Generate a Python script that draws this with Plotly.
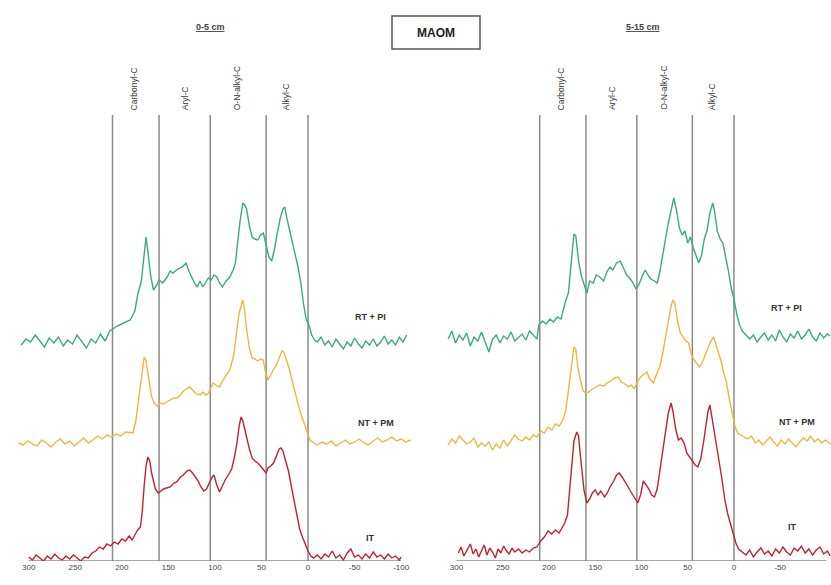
import plotly.graph_objects as go

# ---------------- data (chemical shift, ppm ; intensity, arbitrary units) ----------------
# 0-5 cm
ppm_rt_05 = [308, 303, 298, 293, 288, 283, 278, 273, 268, 263, 258, 253, 248, 243, 238, 233, 228, 223, 218, 213,
             205, 198, 191, 186, 183, 179, 176, 174, 172, 169, 166, 163, 160, 156, 152, 148, 145, 140, 135, 131,
             128, 125, 122, 119, 116, 113, 110, 107, 104, 101, 98, 95, 92, 88, 84, 80, 78, 76, 73, 70, 68, 66,
             63, 60, 57, 54, 51, 48, 45, 42, 39, 36, 33, 30, 27, 25, 23, 20, 17, 14, 11, 8, 5, 2, -1, -4, -7, -10,
             -14, -18, -22, -26, -30, -34, -38, -42, -46, -50, -54, -58, -62, -66, -70, -74, -78, -82, -86, -90,
             -94, -98, -102, -106]
int_rt_05 = [216, 222, 219, 226, 220, 214, 223, 218, 224, 215, 221, 217, 226, 219, 213, 222, 218, 227, 220, 230,
             235, 238, 241, 250, 266, 280, 305, 324, 310, 285, 271, 275, 281, 278, 283, 290, 288, 292, 294, 298,
             290, 284, 278, 274, 280, 274, 278, 283, 281, 286, 284, 278, 274, 280, 284, 292, 298, 318, 340, 358,
             356, 352, 335, 324, 322, 321, 326, 328, 316, 304, 300, 312, 328, 342, 352, 354, 344, 332, 318, 305,
             295, 280, 258, 242, 236, 226, 221, 219, 224, 216, 220, 214, 222, 217, 212, 219, 215, 223, 217, 213,
             220, 216, 222, 215, 219, 225, 217, 221, 216, 224, 219, 226]

ppm_nt_05 = [311, 306, 301, 296, 291, 286, 281, 276, 271, 266, 261, 256, 251, 246, 241, 236, 231, 226, 221, 216,
             211, 206, 201, 196, 191, 188, 185, 182, 179, 176, 174, 171, 168, 165, 162, 159, 155, 152, 148, 144,
             141, 137, 134, 130, 127, 123, 120, 116, 113, 110, 107, 104, 102, 99, 95, 92, 88, 84, 80, 77, 74, 71,
             70, 68, 66, 63, 60, 57, 54, 51, 48, 46, 43, 40, 37, 34, 31, 28, 26, 23, 20, 17, 14, 11, 8, 5, 2, -2,
             -6, -10, -15, -20, -25, -30, -35, -40, -45, -50, -55, -60, -65, -70, -75, -80, -85, -90, -95, -100,
             -105, -110]
int_nt_05 = [118, 116, 120, 117, 115, 121, 118, 114, 119, 122, 117, 120, 115, 119, 123, 118, 121, 125, 122, 126,
             124, 127, 125, 129, 128, 128, 140, 160, 185, 204, 200, 180, 164, 158, 155, 158, 157, 159, 161, 163,
             163, 166, 170, 172, 174, 170, 167, 166, 169, 166, 168, 174, 178, 176, 174, 180, 186, 191, 205, 225,
             248, 258, 261, 250, 232, 213, 203, 202, 200, 202, 201, 190, 181, 186, 192, 196, 203, 210, 209, 200,
             192, 180, 168, 158, 148, 140, 130, 121, 118, 116, 119, 117, 120, 115, 118, 121, 117, 119, 122, 118,
             116, 120, 123, 119, 121, 124, 120, 122, 119, 121]

ppm_it_05 = [300, 296, 292, 288, 284, 280, 276, 272, 268, 264, 260, 256, 252, 248, 244, 240, 236, 232, 228, 224,
             220, 216, 212, 208, 204, 200, 196, 192, 189, 186, 183, 180, 178, 176, 174, 172, 170, 168, 166, 164,
             161, 158, 155, 152, 148, 144, 141, 137, 134, 130, 127, 124, 121, 118, 115, 112, 109, 106, 103, 101,
             98, 95, 92, 89, 85, 82, 79, 76, 74, 72, 70, 68, 66, 63, 60, 57, 54, 51, 48, 45, 43, 40, 37, 34, 31,
             29, 27, 24, 21, 18, 15, 12, 9, 6, 3, 0, -3, -6, -10, -14, -18, -22, -26, -30, -34, -38, -42, -46,
             -50, -54, -58, -62, -66, -70, -74, -78, -82, -86, -90, -94, -98, -100]
int_it_05 = [4, 1, 6, 3, 0, 5, 2, 7, 3, 1, 5, 2, 6, 3, 0, 4, 3, 8, 10, 14,
             12, 17, 15, 19, 17, 22, 20, 25, 21, 26, 31, 34, 50, 75, 95, 104, 100, 88, 80, 72,
             68, 70, 72, 73, 74, 78, 79, 84, 86, 90, 91, 88, 84, 80, 74, 70, 72, 78, 84, 86,
             76, 69, 75, 81, 87, 92, 104, 120, 135, 144, 140, 130, 124, 112, 103, 100, 98, 95, 91, 88,
             93, 95, 98, 106, 112, 113, 110, 100, 90, 75, 60, 45, 32, 24, 16, 10, 5, 3, 6, 2,
             7, 4, 10, 3, 6, 1, 8, 12, 4, 6, 2, 7, 3, 9, 4, 6, 2, 7, 3, 5, 1, 4]

# 5-15 cm
ppm_rt_515 = [309, 305, 301, 297, 293, 289, 285, 281, 277, 273, 269, 265, 261, 257, 253, 249, 245, 241, 237, 233,
              229, 225, 221, 217, 213, 211, 207, 203, 199, 195, 191, 187, 185, 182, 179, 176, 173, 171, 168, 165,
              162, 159, 156, 152, 149, 145, 141, 137, 134, 131, 127, 123, 120, 116, 112, 109, 106, 103, 99, 96,
              93, 90, 86, 83, 80, 77, 74, 71, 68, 65, 62, 59, 56, 53, 50, 47, 44, 41, 38, 35, 32, 29, 26, 23, 21,
              18, 15, 12, 9, 6, 3, 0, -3, -6, -9, -13, -17, -21, -25, -29, -33, -37, -41, -45, -49, -53, -57, -61,
              -65, -69, -73, -77, -81, -85, -89, -93, -97, -101, -104]
int_rt_515 = [222, 230, 218, 226, 221, 228, 215, 224, 220, 229, 219, 209, 222, 226, 218, 225, 222, 229, 220, 224,
              227, 221, 230, 226, 222, 236, 240, 237, 242, 239, 244, 242, 250, 260, 268, 300, 327, 325, 300, 285,
              276, 268, 280, 278, 286, 284, 280, 290, 294, 291, 298, 300, 294, 286, 282, 278, 272, 276, 285, 291,
              286, 282, 280, 278, 290, 308, 322, 338, 352, 363, 350, 333, 326, 330, 318, 324, 313, 305, 298, 306,
              322, 331, 348, 358, 350, 330, 322, 318, 305, 290, 273, 262, 247, 236, 230, 226, 222, 226, 219, 224,
              228, 221, 226, 220, 231, 224, 219, 227, 223, 230, 222, 226, 232, 224, 220, 228, 223, 227, 225]

ppm_nt_515 = [309, 305, 301, 297, 293, 289, 285, 281, 277, 273, 269, 265, 261, 257, 253, 249, 245, 241, 237, 233,
              229, 225, 221, 217, 213, 209, 205, 201, 197, 193, 189, 185, 182, 179, 176, 173, 171, 169, 166, 163,
              160, 157, 153, 149, 145, 141, 137, 133, 129, 125, 122, 118, 114, 111, 108, 105, 101, 97, 94, 91, 87,
              84, 80, 77, 74, 71, 68, 66, 64, 61, 58, 55, 52, 49, 46, 43, 40, 37, 34, 31, 28, 25, 22, 20, 17, 14,
              11, 8, 5, 2, -1, -4, -7, -11, -15, -19, -23, -27, -31, -35, -39, -43, -47, -51, -55, -59, -63, -67,
              -71, -75, -79, -83, -87, -91, -95, -99, -104]
int_nt_515 = [116, 122, 118, 125, 121, 117, 119, 123, 114, 118, 115, 119, 111, 117, 113, 121, 115, 120, 126, 122,
              120, 124, 121, 126, 124, 130, 128, 134, 131, 137, 135, 141, 150, 170, 195, 214, 212, 195, 181, 170,
              168, 169, 172, 174, 176, 175, 178, 180, 183, 184, 179, 177, 174, 176, 172, 178, 184, 187, 189, 182,
              178, 186, 195, 208, 225, 241, 255, 261, 258, 240, 228, 224, 220, 218, 206, 201, 197, 194, 199, 206,
              213, 220, 224, 218, 211, 200, 188, 178, 162, 148, 135, 128, 126, 124, 122, 125, 118, 121, 116, 120,
              124, 119, 115, 121, 117, 122, 118, 114, 119, 123, 120, 125, 119, 122, 118, 121, 117]

ppm_it_515 = [298, 295, 292, 289, 285, 282, 279, 276, 273, 270, 267, 264, 261, 258, 255, 252, 249, 246, 243, 240,
              237, 233, 229, 225, 221, 217, 213, 209, 205, 201, 197, 193, 189, 186, 183, 180, 177, 175, 173, 170,
              168, 166, 164, 162, 159, 156, 153, 150, 147, 144, 140, 137, 134, 130, 127, 124, 121, 118, 115, 112,
              109, 106, 104, 101, 98, 95, 92, 89, 86, 83, 80, 77, 74, 71, 68, 66, 63, 60, 57, 54, 51, 48, 45, 42,
              39, 36, 33, 30, 28, 26, 24, 21, 19, 16, 13, 10, 7, 4, 1, -2, -5, -9, -13, -17, -21, -25, -29, -33,
              -37, -41, -45, -49, -53, -57, -61, -65, -69, -73, -77, -81, -85, -89, -93, -97, -101, -104]
int_it_515 = [8, 14, 5, 10, 17, 7, 12, 4, 11, 16, 6, 13, 9, 3, 12, 8, 15, 10, 7, 13,
              9, 12, 8, 11, 9, 13, 14, 20, 24, 30, 27, 31, 28, 33, 38, 46, 75, 100, 120, 129,
              125, 105, 85, 70, 58, 62, 68, 71, 66, 70, 64, 68, 74, 80, 86, 88, 84, 80, 75, 70,
              65, 60, 58, 66, 80, 76, 72, 66, 64, 72, 90, 108, 130, 148, 158, 150, 132, 121, 123, 118,
              108, 104, 100, 96, 94, 102, 118, 136, 150, 156, 145, 125, 114, 98, 82, 62, 48, 38, 28, 18,
              12, 9, 6, 11, 4, 9, 13, 7, 10, 5, 12, 8, 14, 9, 6, 13, 10, 15, 8, 12, 6, 11, 14, 7, 10, 5]

treatments = ["RT + PI", "NT + PM", "IT"]
colors = ["#3aac78", "#f2b63c", "#c0232f"]
depth_titles = ["0-5 cm", "5-15 cm"]
region_names = ["Carbonyl-C", "Aryl-C", "O-N-alkyl-C", "Alkyl-C"]
region_centers = [187, 132, 76, 24]
region_bounds = [210, 160, 105, 45, 0]
tick_vals = [300, 250, 200, 150, 100, 50, 0, -50, -100]
tick_text = ["300", "250", "200", "150", "100", "50", "0", "-50", "-100"]
label_ppm = [[-67, -73, -67], [-57, -68, -63]]
label_int = [[244, 138, 23], [253, 139, 34]]

panels = [
    [(ppm_rt_05, int_rt_05), (ppm_nt_05, int_nt_05), (ppm_it_05, int_it_05)],
    [(ppm_rt_515, int_rt_515), (ppm_nt_515, int_nt_515), (ppm_it_515, int_it_515)],
]

W, H = 831, 585
fig = go.Figure()

axes = [("x", "y"), ("x2", "y2")]
for p, series in enumerate(panels):
    xa, ya = axes[p]
    for s, (xs, ys) in enumerate(series):
        fig.add_trace(go.Scatter(x=xs, y=ys, mode="lines", xaxis=xa, yaxis=ya,
                                 line=dict(color=colors[s], width=1.4), showlegend=False,
                                 name=treatments[s]))

# layout geometry
x_ranges = [[320.1, -114.9], [312.4, -104.9]]
x_domains = [[10 / W, 415 / W], [445 / W, 1.0]]
y_dom = [(H - 561) / H, (H - 20) / H]
y_rng = [0, 541]

font_fam = "Liberation Sans, Arial"
shapes = []
annotations = []
for p in range(2):
    xa, ya = axes[p]
    for b in region_bounds:
        shapes.append(dict(type="line", xref=xa, yref=ya, x0=b, x1=b, y0=0, y1=446,
                           line=dict(color="#8a8a8a", width=1.5), layer="below"))
    shapes.append(dict(type="line", xref=xa, yref=ya, x0=300, x1=-100, y0=0, y1=0,
                       line=dict(color="#8a8a8a", width=1.3), layer="below"))
    for name, c in zip(region_names, region_centers):
        annotations.append(dict(xref=xa, yref=ya, x=c, y=449, text=name, textangle=-90,
                                showarrow=False, xanchor="center", yanchor="bottom",
                                font=dict(size=8.5, color="#333", family=font_fam)))
    for s in range(3):
        annotations.append(dict(xref=xa, yref=ya, x=label_ppm[p][s], y=label_int[p][s],
                                text="<b>" + treatments[s] + "</b>", showarrow=False,
                                xanchor="center", yanchor="middle",
                                font=dict(size=9, color="#333", family=font_fam)))

annotations.append(dict(xref="paper", yref="paper", x=210 / W, y=(H - 27) / H,
                        xanchor="center", yanchor="middle",
                        text="<b><u>" + depth_titles[0] + "</u></b>", showarrow=False,
                        font=dict(size=9, color="#444", family=font_fam)))
annotations.append(dict(xref="paper", yref="paper", x=643 / W, y=(H - 27) / H,
                        xanchor="center", yanchor="middle",
                        text="<b><u>" + depth_titles[1] + "</u></b>", showarrow=False,
                        font=dict(size=9, color="#444", family=font_fam)))
shapes.append(dict(type="rect", xref="paper", yref="paper", x0=392 / W, x1=480 / W,
                   y0=(H - 49) / H, y1=(H - 16) / H, line=dict(color="#555", width=1.5)))
annotations.append(dict(xref="paper", yref="paper", x=436 / W, y=(H - 32.5) / H,
                        xanchor="center", yanchor="middle",
                        text="<b>MAOM</b>", showarrow=False,
                        font=dict(size=12, color="#222", family=font_fam)))

axis_common = dict(showgrid=False, zeroline=False, showline=False, ticks="",
                   tickfont=dict(size=8, color="#444", family=font_fam),
                   tickmode="array", tickvals=tick_vals, ticktext=tick_text)
yaxis_common = dict(showgrid=False, zeroline=False, showline=False, showticklabels=False,
                    range=y_rng, domain=y_dom)

fig.update_layout(
    width=W, height=H, margin=dict(l=0, r=0, t=0, b=0),
    paper_bgcolor="white", plot_bgcolor="white",
    xaxis=dict(range=x_ranges[0], domain=x_domains[0], anchor="y", **axis_common),
    xaxis2=dict(range=x_ranges[1], domain=x_domains[1], anchor="y2", **axis_common),
    yaxis=dict(anchor="x", **yaxis_common),
    yaxis2=dict(anchor="x2", **yaxis_common),
    shapes=shapes, annotations=annotations,
)

fig.write_html("out.html", config={"displayModeBar": False},
               post_script="document.body.style.margin='0';document.body.style.overflow='hidden';")
